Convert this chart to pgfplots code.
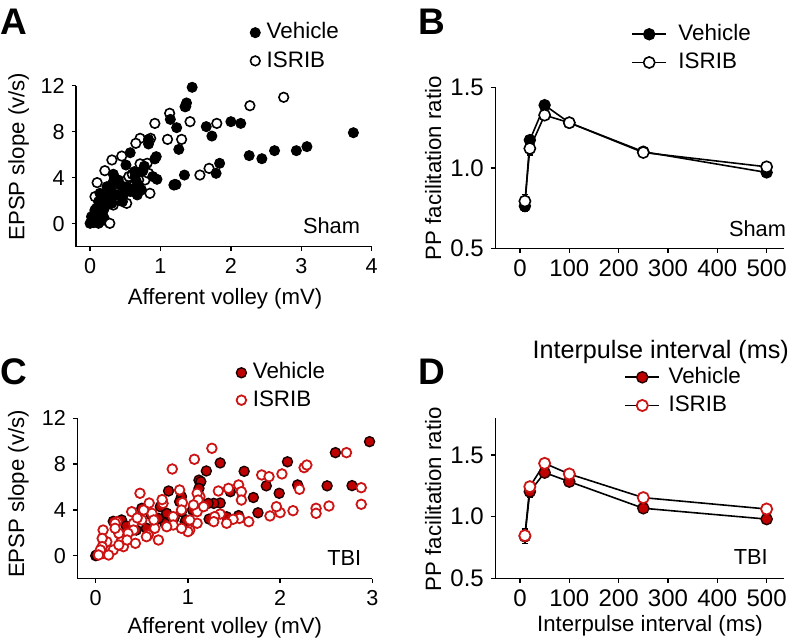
\documentclass[border=0pt]{standalone}
\usepackage{fontspec}
\setmainfont{Liberation Sans}
\setsansfont{Liberation Sans}
\usepackage{pgfplots}
\pgfplotsset{compat=1.18}
\definecolor{vred}{RGB}{190,0,0}
\definecolor{ired}{RGB}{205,20,20}

\pgfplotsset{
  panel/.style={
    scale only axis,
    axis lines=left,
    axis line style={-, line width=0.75pt},
    tick align=outside,
    major tick length=2.2pt,
    every tick/.style={line width=0.75pt, black},
    clip=false,
    /pgf/number format/assume math mode=true,
    legend cell align=left,
    label style={font=\fontsize{11.1}{13}\selectfont},
  },
  leg/.style n args={3}{legend style={draw=none, fill=none, inner sep=0pt, row sep=#3,
      font=\fontsize{11.2}{13}\selectfont,
      nodes={inner sep=1.2pt, text height=8.2pt, text depth=2pt},
      /tikz/every odd column/.append style={column sep=#2},
      at={(axis description cs:#1)}, anchor=north west}},
  vehA/.style={only marks, mark=*, mark size=2.5pt, mark options={fill=black, draw=black, line width=0.5pt}},
  isA/.style={only marks, mark=*, mark size=2.4pt, mark options={fill=white, draw=black, line width=0.8pt}},
  vehC/.style={only marks, mark=*, mark size=2.5pt, mark options={fill=vred, draw=black!85!vred, line width=0.7pt}},
  isC/.style={only marks, mark=*, mark size=2.4pt, mark options={fill=white, draw=ired, line width=0.9pt}},
  ebar/.style={error bars/.cd, y dir=both, y explicit,
      error bar style={line width=0.6pt, black},
      error mark options={rotate=90, mark size=1.6pt, line width=0.6pt, black}},
}

\begin{document}
\begin{tikzpicture}
\useasboundingbox (0,0) rectangle (396.5pt,320pt);
\node[anchor=base west, inner sep=0pt, font=\fontsize{18.5}{20}\selectfont\bfseries] at (0pt,302.5pt) {A};
\node[anchor=base west, inner sep=0pt, font=\fontsize{18.5}{20}\selectfont\bfseries] at (209pt,302.5pt) {B};
\node[anchor=base west, inner sep=0pt, font=\fontsize{18.5}{20}\selectfont\bfseries] at (0pt,127.5pt) {C};
\node[anchor=base west, inner sep=0pt, font=\fontsize{18.5}{20}\selectfont\bfseries] at (209pt,127.5pt) {D};

% ---------------- A ----------------
\begin{axis}[panel, at={(38pt,196.65pt)}, anchor=south west,
  width=147.85pt, height=80.5pt,
  xmin=-0.2, xmax=4, ymin=-2, ymax=12,
  xtick={0,1,2,3,4}, ytick={0,4,8,12},
  tick label style={font=\fontsize{10.8}{13}\selectfont},
  xlabel={Afferent volley (mV)}, ylabel={EPSP slope (v/s)},
  xlabel style={at={(axis description cs:0.504,0)}, anchor=base, yshift=-29.15pt},
  ylabel style={at={(axis description cs:-0.175,0.559)}, anchor=base},
  leg={0.588,1.41}{2pt}{1.5pt}]
\addlegendimage{vehA}\addlegendentry{Vehicle}
\addlegendimage{isA}\addlegendentry{ISRIB}
\addplot[isA, forget plot] coordinates {
(1.35,10.17)(1.13,9.6)(1.42,8.87)(0.92,8.72)(1.10,7.33)(1.30,7.33)(0.71,7.42)
(0.65,6.99)(0.86,7.42)(0.45,5.88)(0.31,5.54)(0.21,4.61)(0.10,3.57)(0.81,5.25)
(0.52,3.8)(0.78,3.8)(0.85,2.64)(0.47,2.93)(0.55,4.1)(1.56,4.23)(1.69,4.81)
(1.80,8.72)(2.27,10.26)(2.75,10.99)(0.07,2.35)(0.17,1.92)(0.07,1.19)(0.21,0.32)
(0.28,0.03)(0.33,1.62)(0.62,2.78)(0.69,3.8)(0.42,2.2)(0.71,5.2)(0.83,4.38)
(0.52,1.77)(0.12,0.5)(0.05,0.1)(0.60,4.3)(1.20,3.4)};
\addplot[vehA, forget plot] coordinates {
(1.45,11.86)(1.37,10.5)(1.36,10.2)(1.14,9.07)(1.23,8.35)(1.26,6.46)(0.83,7.33)
(0.83,6.93)(0.92,5.63)(0.95,3.86)(0.89,4.1)(0.77,5.0)(0.75,4.6)(0.57,6.17)
(0.51,5.1)(0.63,4.53)(0.64,4.1)(0.33,4.3)(0.45,3.28)(0.52,3.22)(0.57,2.8)
(0.69,3.28)(0.67,2.5)(0.73,2.93)(0.38,2.5)(0.46,1.92)(0.24,3.22)(0.28,2.78)
(0.21,2.2)(0.31,1.77)(0.14,2.64)(0.12,1.92)(0.17,1.48)(0.07,1.05)(0.02,0.61)
(0.05,0.17)(0.12,0.03)(0.0,0.03)(0.19,0.61)(0.09,1.34)(0.24,1.92)(1.19,3.36)
(1.22,3.4)(1.34,4.23)(0.14,0.2)(0.07,0.47)(0.33,3.65)(0.40,3.8)(0.94,5.83)
(0.66,3.65)(0.60,3.0)(0.10,0.9)(0.16,1.1)(0.04,0.3)(0.20,1.3)(0.26,2.4)
(0.42,3.4)(0.48,2.6)(0.30,2.9)
(1.65,8.44)(1.73,7.62)(2.0,8.87)(2.14,8.72)(3.74,7.91)(3.08,6.7)(2.93,6.35)
(2.62,6.35)(2.44,5.65)(2.26,5.92)(1.84,5.25)(1.79,4.38)};
\node[anchor=base east, inner sep=0pt, font=\fontsize{10.9}{13}\selectfont] at (axis cs:3.84,-0.83) {Sham};
\end{axis}

% ---------------- B ----------------
\begin{axis}[panel, at={(247.65pt,195.85pt)}, anchor=south west,
  width=144.3pt, height=80.5pt,
  xmin=-50, xmax=535, ymin=0.5, ymax=1.5,
  xtick={0,100,200,300,400,500}, ytick={0.5,1.0,1.5},
  yticklabel style={/pgf/number format/.cd, fixed, fixed zerofill, precision=1},
  tick label style={font=\fontsize{12}{14}\selectfont},
  xlabel={Interpulse interval (ms)}, ylabel={PP facilitation ratio},
  xlabel style={at={(axis description cs:0.573,0)}, anchor=base, yshift=-55pt, font=\fontsize{12.6}{14}\selectfont},
  ylabel style={at={(axis description cs:-0.188,0.497)}, anchor=base},
  leg={0.47,1.41}{4.5pt}{1.5pt}]
\addplot[black, line width=0.8pt, mark=*, mark size=2.8pt, mark options={fill=black, draw=black, line width=0.6pt}, ebar]
coordinates {(10,0.762)+-(0,0.03) (20,1.172)+-(0,0.02) (50,1.389)+-(0,0.025) (100,1.28)+-(0,0.01) (250,1.10)+-(0,0.01) (500,0.971)+-(0,0.01)};
\addlegendentry{Vehicle}
\addplot[black, line width=0.8pt, mark=*, mark size=2.8pt, mark options={fill=white, draw=black, line width=0.8pt}, ebar]
coordinates {(10,0.793)+-(0,0.04) (20,1.12)+-(0,0.04) (50,1.327)+-(0,0.02) (100,1.28)+-(0,0.01) (250,1.095)+-(0,0.01) (500,1.006)+-(0,0.01)};
\addlegendentry{ISRIB}
\node[anchor=base east, inner sep=0pt, font=\fontsize{10.9}{13}\selectfont] at (axis cs:540,0.571) {Sham};
\end{axis}

% ---------------- C ----------------
\begin{axis}[panel, at={(38.65pt,30.7pt)}, anchor=south west,
  width=147.5pt, height=80.15pt,
  xmin=-0.2, xmax=3, ymin=-2, ymax=12,
  xtick={0,1,2,3}, ytick={0,4,8,12},
  tick label style={font=\fontsize{10.8}{13}\selectfont},
  xlabel={Afferent volley (mV)}, ylabel={EPSP slope (v/s)},
  xlabel style={at={(axis description cs:0.5,0)}, anchor=base, yshift=-27.35pt},
  ylabel style={at={(axis description cs:-0.18,0.528)}, anchor=base},
  leg={0.538,1.365}{2pt}{1.1pt}]
\addlegendimage{vehC}\addlegendentry{Vehicle}
\addlegendimage{isC}\addlegendentry{ISRIB}
\addplot[vehC, forget plot] coordinates {
(2.97,9.96)(2.60,9.0)(2.08,8.2)(1.61,7.37)(1.35,8.1)(1.20,7.4)(1.12,6.6)
(1.14,6.47)(1.12,5.88)(1.46,5.59)(1.71,5.08)(1.85,6.1)(1.99,5.45)(2.19,6.18)
(2.51,6.1)(2.78,6.12)(1.76,3.75)(1.35,4.6)(1.28,4.57)(1.22,4.57)(1.23,3.2)
(0.97,2.97)(0.93,5.16)(0.93,3.84)(0.79,5.65)(0.77,3.7)(0.75,2.83)(0.70,4.28)
(0.68,3.26)(0.50,4.14)(0.44,2.24)(0.39,2.53)(0.19,3.0)(0.28,3.12)(0.0,0.0)
(0.01,0.06)(0.91,4.72)(0.98,3.12)(1.42,3.4)(1.55,3.5)(0.60,3.6)(0.55,2.4)
(0.85,3.3)(1.05,4.0)(0.33,2.6)};
\addplot[isC, forget plot] coordinates {
(1.26,9.38)(1.07,8.42)(0.83,7.57)(2.72,9.0)(2.26,7.69)(2.29,7.92)(2.02,7.14)
(1.80,7.05)(1.88,6.9)(2.88,5.94)(2.21,5.8)(2.88,4.49)(2.53,4.34)(2.39,4.14)
(2.39,3.7)(2.14,3.93)(2.0,3.76)(1.96,4.28)(1.89,3.47)(1.66,2.97)(1.56,3.26)
(1.49,3.18)(1.42,2.83)(1.35,3.64)(1.33,5.65)(1.44,5.88)(1.55,6.18)(1.58,5.59)
(1.58,4.86)(1.13,5.16)(1.10,5.45)(1.11,4.86)(1.10,3.84)(1.17,4.28)(1.06,4.43)
(1.10,2.83)(1.02,2.24)(1.0,2.1)(0.93,2.39)(0.91,5.74)(0.94,4.63)(0.84,3.41)
(0.84,2.68)(0.73,4.57)(0.64,2.39)(0.68,1.37)(0.57,1.81)(0.55,1.66)(0.61,3.7)
(0.52,3.99)(0.48,5.45)(0.50,3.12)(0.41,2.83)(0.43,1.08)(0.39,3.84)(0.41,2.24)
(0.35,1.95)(0.30,0.79)(0.28,1.37)(0.25,1.95)(0.23,2.97)(0.21,2.83)(0.21,2.39)
(0.16,0.5)(0.12,1.22)(0.08,2.24)(0.07,1.51)(0.07,0.79)(0.08,0.2)(0.05,0.5)
(0.03,0.06)(0.19,0.5)(0.14,0.06)(0.25,0.93)(0.34,1.37)(0.63,3.12)(0.77,2.53)
(0.93,3.99)(1.02,3.12)(1.29,3.41)(1.28,2.97)(0.72,4.9)(0.58,4.6)(0.45,3.3)};
\node[anchor=base east, inner sep=0pt, font=\fontsize{10.9}{13}\selectfont] at (axis cs:2.885,-0.9) {TBI};
\end{axis}

% ---------------- D ----------------
\begin{axis}[panel, at={(247.65pt,30.85pt)}, anchor=south west,
  width=144.3pt, height=80.15pt,
  xmin=-50, xmax=535, ymin=0.5, ymax=1.8,
  xtick={0,100,200,300,400,500}, ytick={0.5,1.0,1.5},
  yticklabel style={/pgf/number format/.cd, fixed, fixed zerofill, precision=1},
  tick label style={font=\fontsize{12}{14}\selectfont},
  xlabel={Interpulse interval (ms)}, ylabel={PP facilitation ratio},
  xlabel style={at={(axis description cs:0.536,0)}, anchor=base, yshift=-26.7pt},
  ylabel style={at={(axis description cs:-0.188,0.493)}, anchor=base},
  leg={0.446,1.335}{3pt}{1.5pt}]
\addplot[black, line width=0.8pt, mark=*, mark size=2.8pt, mark options={fill=vred, draw=black!80!vred, line width=0.7pt}, ebar]
coordinates {(10,0.84)+-(0,0.06) (20,1.203)+-(0,0.05) (50,1.357)+-(0,0.02) (100,1.284)+-(0,0.02) (250,1.068)+-(0,0.01) (500,0.98)+-(0,0.01)};
\addlegendentry{Vehicle}
\addplot[black, line width=0.8pt, mark=*, mark size=2.8pt, mark options={fill=white, draw=ired, line width=0.9pt}, ebar]
coordinates {(10,0.846)+-(0,0.03) (20,1.243)+-(0,0.02) (50,1.432)+-(0,0.02) (100,1.346)+-(0,0.02) (250,1.154)+-(0,0.01) (500,1.062)+-(0,0.01)};
\addlegendentry{ISRIB}
\node[anchor=base east, inner sep=0pt, font=\fontsize{10.9}{13}\selectfont] at (axis cs:503,0.608) {TBI};
\end{axis}
\end{tikzpicture}
\end{document}
